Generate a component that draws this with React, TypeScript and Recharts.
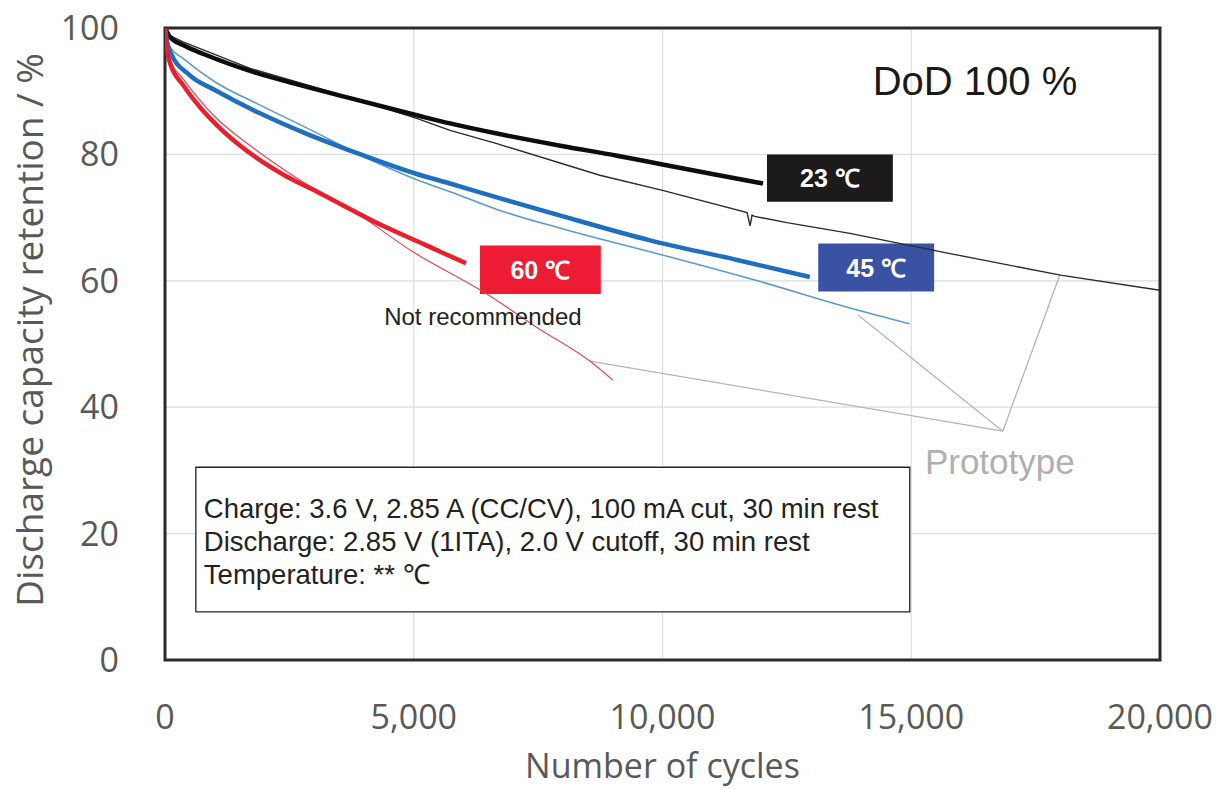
import React from 'react';
import {
  LineChart, Line, XAxis, YAxis, CartesianGrid, ReferenceArea, ReferenceLine, ReferenceDot,
} from 'recharts';

// 23 ℃ (product) – thick black
const cycles23 = [0, 100, 362, 800, 1709, 2700, 3720, 5060, 5730, 6670, 8000, 9085, 10000, 11000, 12020];
const ret23 = [100, 98.6, 97.3, 95.8, 93.2, 91.0, 88.9, 86.2, 84.9, 83.3, 81.3, 79.8, 78.4, 76.9, 75.4];

// 23 ℃ prototype – thin black
const cycles23p = [0, 100, 362, 1709, 3720, 5060, 5730, 6670, 8740, 10000, 11700, 11760, 11800, 11850, 12500, 13770, 15780, 18000, 20000];
const ret23p = [100, 98.8, 97.8, 93.6, 89.0, 85.7, 83.8, 81.7, 76.7, 74.3, 70.8, 68.7, 70.4, 70.2, 69.2, 67.5, 64.3, 60.9, 58.5];

// 45 ℃ – thick blue
const cycles45 = [0, 50, 100, 500, 1000, 1910, 2800, 3720, 5060, 5730, 6670, 8000, 9750, 11500, 12960];
const ret45 = [100, 97.5, 96.3, 92.5, 90.2, 86.5, 83.4, 80.6, 76.9, 75.4, 73.2, 70.2, 66.4, 63.3, 60.6];

// 45 ℃ prototype – thin blue
const cycles45p = [0, 100, 362, 1000, 1910, 3000, 3720, 5060, 5730, 6670, 8000, 9750, 12000, 13770, 14970];
const ret45p = [100, 97.0, 95.2, 91.5, 87.8, 83.6, 80.7, 76.0, 74.1, 71.3, 68.2, 64.6, 59.8, 55.7, 53.2];

// 60 ℃ – thick red
const cycles60 = [0, 30, 100, 362, 700, 1045, 1850, 2400, 3055, 4380, 5200, 5990, 6050];
const ret60 = [100, 97.0, 94.5, 91.0, 87.5, 84.6, 79.4, 76.7, 74.1, 68.7, 65.8, 63.0, 62.8];

// 60 ℃ prototype – thin red
const cycles60p = [0, 100, 362, 1000, 1709, 2700, 3720, 5000, 6390, 7500, 8540, 9000];
const ret60p = [100, 95.0, 92.0, 86.0, 81.4, 76.0, 71.4, 64.5, 58.3, 52.5, 47.3, 44.3];

const xTicks = [0, 5000, 10000, 15000, 20000];
const yTicks = [0, 20, 40, 60, 80, 100];

const conditionLines = [
  'Charge: 3.6 V, 2.85 A (CC/CV), 100 mA cut, 30 min rest',
  'Discharge: 2.85 V (1ITA), 2.0 V cutoff, 30 min rest',
  'Temperature: ** ℃',
];

const zip = (xs: number[], ys: number[]) => xs.map((c, i) => ({ cycles: c, ret: ys[i] }));

const AXIS_FONT = "'Open Sans', 'Noto Sans', sans-serif";
const ARIAL = "'Liberation Sans', Arial, sans-serif";

const BoxLabel = (props: any) => {
  const { viewBox, text } = props;
  if (!viewBox) return null;
  return (
    <text
      x={viewBox.x + viewBox.width / 2}
      y={viewBox.y + viewBox.height / 2 + 9}
      textAnchor="middle"
      fill="#fff"
      fontFamily={ARIAL}
      fontWeight="bold"
      fontSize={25}
    >
      {text}
    </text>
  );
};

const ConditionLabel = (props: any) => {
  const { viewBox } = props;
  if (!viewBox) return null;
  return (
    <text fontFamily={ARIAL} fontSize={27.5} fill="#222">
      {conditionLines.map((l, i) => (
        <tspan key={i} x={viewBox.x + 8} y={viewBox.y + 51 + i * 33}>{l}</tspan>
      ))}
    </text>
  );
};

const FreeText = (props: any) => {
  const { viewBox, text, size, color, family } = props;
  if (!viewBox) return null;
  return (
    <text x={viewBox.x} y={viewBox.y} dy="0.35em" textAnchor="middle" fill={color} fontSize={size} fontFamily={family}>
      {text}
    </text>
  );
};

export default function App() {
  return (
    <div style={{ position: 'absolute', left: 0, top: 0, background: '#fff' }}>
      <LineChart width={1226} height={789} margin={{ top: 28, right: 66, bottom: 0, left: 10 }}>
        <CartesianGrid stroke="#dcdcdc" strokeWidth={1.2} />
        <XAxis
          type="number"
          dataKey="cycles"
          domain={[0, 20000]}
          ticks={xTicks}
          allowDataOverflow
          height={129}
          tickLine={false}
          axisLine={false}
          tickSize={0}
          tickMargin={45}
          tickFormatter={(v: number) => v.toLocaleString('en-US')}
          tick={{ fontSize: 34, fill: '#595959', fontFamily: AXIS_FONT }}
          label={({ viewBox }: any) => (
            <text x={viewBox.x + viewBox.width / 2} y={viewBox.y + 118} textAnchor="middle" fontSize={34} fill="#595959" fontFamily={AXIS_FONT}>
              Number of cycles
            </text>
          )}
        />
        <YAxis
          type="number"
          dataKey="ret"
          domain={[0, 100]}
          ticks={yTicks}
          width={155}
          tickLine={false}
          axisLine={false}
          tickSize={0}
          tickMargin={46}
          tick={{ fontSize: 34, fill: '#595959', fontFamily: AXIS_FONT }}
          label={({ viewBox }: any) => (
            <text
              transform={`translate(${viewBox.x + 20}, ${viewBox.y + viewBox.height / 2 - 14}) rotate(-90)`}
              textAnchor="middle"
              dy="0.35em"
              fontSize={37}
              fill="#595959"
              fontFamily={AXIS_FONT}
            >
              Discharge capacity retention / %
            </text>
          )}
        />

        {/* plot frame */}
        <ReferenceArea x1={0} x2={20000} y1={0} y2={100} fill="none" stroke="#2b2b2b" strokeWidth={3} fillOpacity={0} />

        {/* condition box */}
        <ReferenceArea
          x1={620} x2={14970} y1={7.6} y2={30.5}
          fill="#fff" fillOpacity={1} stroke="#222" strokeWidth={1.3}
          label={<ConditionLabel />}
        />

        {/* leader lines to Prototype */}
        <ReferenceLine segment={[{ x: 8540, y: 47.3 }, { x: 16840, y: 36.2 }]} stroke="#b5b5b5" strokeWidth={1.3} />
        <ReferenceLine segment={[{ x: 13930, y: 54.6 }, { x: 16840, y: 36.2 }]} stroke="#b5b5b5" strokeWidth={1.3} />
        <ReferenceLine segment={[{ x: 17990, y: 61.0 }, { x: 16840, y: 36.2 }]} stroke="#b5b5b5" strokeWidth={1.3} />

        <Line data={zip(cycles23p, ret23p)} dataKey="ret" type="linear" stroke="#2a2a2a" strokeWidth={1.4} dot={false} isAnimationActive={false} />
        <Line data={zip(cycles45p, ret45p)} dataKey="ret" type="monotone" stroke="#5b9bd5" strokeWidth={1.6} dot={false} isAnimationActive={false} />
        <Line data={zip(cycles60p, ret60p)} dataKey="ret" type="monotone" stroke="#e2494f" strokeWidth={1.2} dot={false} isAnimationActive={false} />
        <Line data={zip(cycles23, ret23)} dataKey="ret" type="monotone" stroke="#0d0d0d" strokeWidth={4.5} dot={false} isAnimationActive={false} />
        <Line data={zip(cycles45, ret45)} dataKey="ret" type="monotone" stroke="#1f6fc0" strokeWidth={4.5} dot={false} isAnimationActive={false} />
        <Line data={zip(cycles60, ret60)} dataKey="ret" type="monotone" stroke="#e8202c" strokeWidth={4.5} dot={false} isAnimationActive={false} />

        {/* temperature tags */}
        <ReferenceArea x1={12100} x2={14630} y1={72.5} y2={80} fill="#1c1a1a" fillOpacity={1} stroke="none" label={<BoxLabel text="23 ℃" />} />
        <ReferenceArea x1={6330} x2={8760} y1={57.9} y2={65.6} fill="#ee1b34" fillOpacity={1} stroke="none" label={<BoxLabel text="60 ℃" />} />
        <ReferenceArea x1={13130} x2={15460} y1={58.3} y2={65.9} fill="#3a52a3" fillOpacity={1} stroke="none" label={<BoxLabel text="45 ℃" />} />

        <ReferenceDot x={16280} y={91.6} r={0} fill="none" stroke="none"
          label={<FreeText text="DoD 100 %" size={40} color="#1a1a1a" family={ARIAL} />} />
        <ReferenceDot x={6390} y={54.3} r={0} fill="none" stroke="none"
          label={<FreeText text="Not recommended" size={24} color="#222" family={ARIAL} />} />
        <ReferenceDot x={16780} y={31.4} r={0} fill="none" stroke="none"
          label={<FreeText text="Prototype" size={35} color="#b0b0b0" family={ARIAL} />} />
      </LineChart>
    </div>
  );
}
